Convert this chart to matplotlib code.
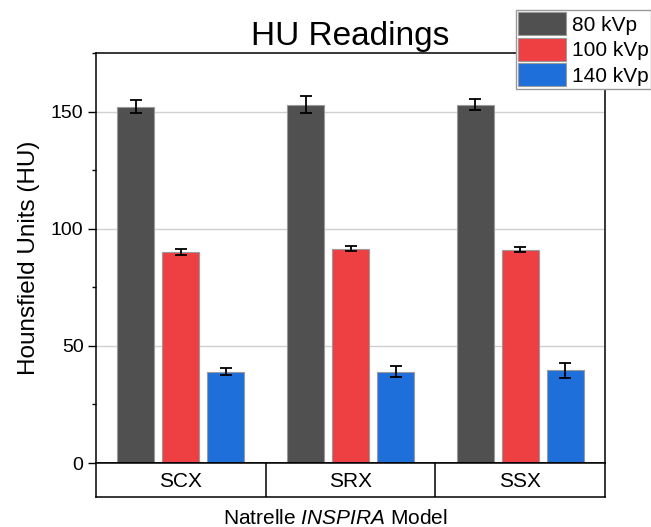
import matplotlib
matplotlib.use("Agg")
import matplotlib.pyplot as plt
import numpy as np
from matplotlib.ticker import MultipleLocator

plt.rcParams['font.family'] = ['Liberation Sans', 'DejaVu Sans']
plt.rcParams['mathtext.fontset'] = 'custom'
plt.rcParams['mathtext.rm'] = 'Liberation Sans'
plt.rcParams['mathtext.it'] = 'Liberation Sans:italic'

categories = ["SCX", "SRX", "SSX"]
series_names = ["80 kVp", "100 kVp", "140 kVp"]
vals_80 = [152, 153, 153]
err_80 = [2.8, 3.5, 2.2]
vals_100 = [90, 91.5, 91]
err_100 = [1.2, 1.0, 1.1]
vals_140 = [39, 39, 39.5]
err_140 = [1.5, 2.2, 3.2]
colors = ["#505050", "#ee3f43", "#1f6fdb"]

fig = plt.figure(figsize=(6.51, 5.27), dpi=100)
ax = fig.add_axes([0.1475, 0.1214, 0.782, 0.778])

x = np.arange(len(categories))
bw = 0.217
pitch = 0.265
for i, (v, e) in enumerate([(vals_80, err_80), (vals_100, err_100), (vals_140, err_140)]):
    ax.bar(x + (i - 1) * pitch, v, width=bw, color=colors[i], edgecolor="#9a9a9a",
           linewidth=0.8, label=series_names[i], zorder=2)
    ax.errorbar(x + (i - 1) * pitch, v, yerr=e, fmt='none', ecolor='black',
                elinewidth=1.3, capsize=4.5, capthick=1.3, zorder=3)

ax.set_xlim(-0.5, len(categories) - 0.5)
ax.set_ylim(0, 175)
ax.yaxis.set_major_locator(MultipleLocator(50))
ax.yaxis.set_minor_locator(MultipleLocator(25))
ax.grid(axis='y', which='major', color='#d0d0d0', linewidth=1, zorder=0)
ax.set_axisbelow(True)
ax.set_xticks([])
ax.tick_params(axis='y', which='major', length=6, width=1, labelsize=14, direction='out', pad=3)
ax.tick_params(axis='y', which='minor', length=3, width=1, direction='out')
for s in ax.spines.values():
    s.set_linewidth(1.1)
ax.set_ylabel("Hounsfield Units (HU)", fontsize=17.5, labelpad=8)
ax.set_title("HU Readings", fontsize=24, pad=6)

# category table below axes
tab = fig.add_axes([0.1475, 0.0569, 0.782, 0.0645])
tab.set_xlim(-0.5, len(categories) - 0.5)
tab.set_ylim(0, 1)
tab.set_xticks([])
tab.set_yticks([])
for s in tab.spines.values():
    s.set_linewidth(1.1)
for k in range(1, len(categories)):
    tab.axvline(k - 0.5, color='black', linewidth=1.1)
for k, c in enumerate(categories):
    tab.text(k, 0.47, c, ha='center', va='center', fontsize=15)

fig.text(0.5145, 0.005, r"Natrelle $\mathit{INSPIRA}$ Model", ha='center', va='baseline', fontsize=15)

leg = fig.legend(loc='upper right', bbox_to_anchor=(1.0, 0.981), fontsize=15,
                 handlelength=2.3, handleheight=1.35, labelspacing=0.1,
                 handletextpad=0.3, borderpad=0.1, borderaxespad=0,
                 fancybox=False, framealpha=1, edgecolor='#999999')
leg.get_frame().set_linewidth(1)

fig.savefig("out.png", dpi=100)
